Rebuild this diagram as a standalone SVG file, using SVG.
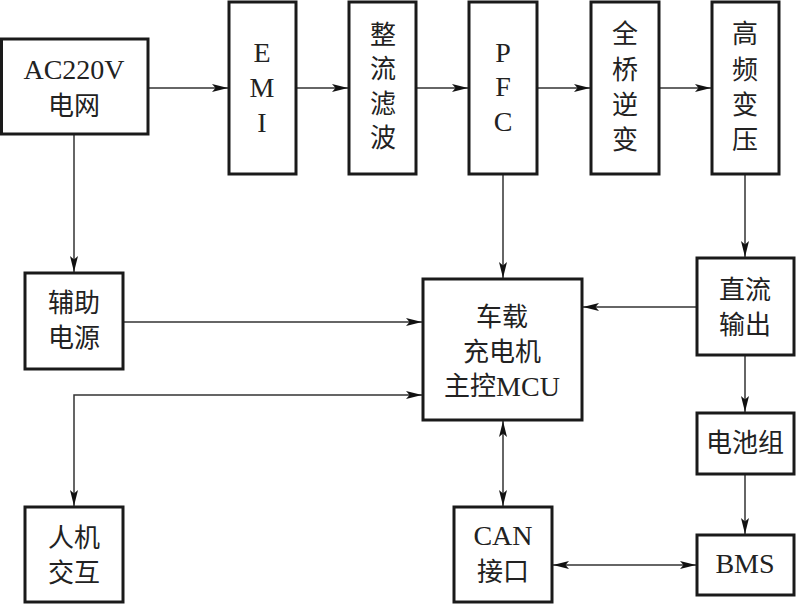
<svg xmlns="http://www.w3.org/2000/svg" width="796" height="604" viewBox="0 0 796 604">
<style>
.box{fill:#fff;stroke:#1a1a1a;stroke-width:3}
.t{font-family:"Liberation Serif","Noto Sans CJK SC",serif;font-size:26px;fill:#222;text-anchor:middle;dominant-baseline:central}
.l{font-size:28px}
.c{fill:none;stroke:#333;stroke-width:1.5}
</style>
<defs>
<marker id="ah" markerUnits="userSpaceOnUse" markerWidth="18" markerHeight="10" refX="16" refY="4.5" orient="auto-start-reverse">
<path d="M0,0.5 L16,4.5 L0,8.5 L3.5,4.5 z" fill="#111"/>
</marker>
</defs>
<rect width="796" height="604" fill="#fff"/>
<g id="connectors">
<line class="c" x1="148" y1="88" x2="228" y2="88" marker-end="url(#ah)"/>
<line class="c" x1="296" y1="88" x2="348" y2="88" marker-end="url(#ah)"/>
<line class="c" x1="416" y1="88" x2="468" y2="88" marker-end="url(#ah)"/>
<line class="c" x1="537" y1="88" x2="590" y2="88" marker-end="url(#ah)"/>
<line class="c" x1="659" y1="88" x2="711" y2="88" marker-end="url(#ah)"/>
<line class="c" x1="74" y1="134" x2="74" y2="272" marker-end="url(#ah)"/>
<line class="c" x1="503" y1="174" x2="503" y2="278" marker-end="url(#ah)"/>
<line class="c" x1="745" y1="174" x2="745" y2="257" marker-end="url(#ah)"/>
<line class="c" x1="123" y1="322" x2="422" y2="322" marker-end="url(#ah)"/>
<polyline class="c" points="422,395 74,395 74,506" marker-start="url(#ah)" marker-end="url(#ah)"/>
<line class="c" x1="697" y1="307" x2="583" y2="307" marker-end="url(#ah)"/>
<line class="c" x1="745" y1="355" x2="745" y2="412" marker-end="url(#ah)"/>
<line class="c" x1="745" y1="474" x2="745" y2="534" marker-end="url(#ah)"/>
<line class="c" x1="503" y1="421" x2="503" y2="506" marker-start="url(#ah)" marker-end="url(#ah)"/>
<line class="c" x1="553" y1="565" x2="696" y2="565" marker-start="url(#ah)" marker-end="url(#ah)"/>
</g>
<g id="ac"><rect class="box" x="1.5" y="39" width="146.5" height="95"/><text class="t l" x="74" y="69">AC220V</text><text class="t" x="74" y="106">电网</text></g>
<g id="emi"><rect class="box" x="229" y="2" width="67" height="172"/><text class="t l" x="262" y="52">E</text><text class="t l" x="262" y="87">M</text><text class="t l" x="262" y="122">I</text></g>
<g id="rect"><rect class="box" x="349" y="2" width="67" height="172"/><text class="t" x="383" y="35">整</text><text class="t" x="383" y="69">流</text><text class="t" x="383" y="104">滤</text><text class="t" x="383" y="138">波</text></g>
<g id="pfc"><rect class="box" x="469" y="2" width="68" height="172"/><text class="t l" x="503" y="52">P</text><text class="t l" x="503" y="86">F</text><text class="t l" x="503" y="121">C</text></g>
<g id="inv"><rect class="box" x="591" y="2" width="68" height="172"/><text class="t" x="625" y="34">全</text><text class="t" x="625" y="70">桥</text><text class="t" x="625" y="105">逆</text><text class="t" x="625" y="140">变</text></g>
<g id="xfmr"><rect class="box" x="712" y="2" width="67" height="172"/><text class="t" x="745" y="34">高</text><text class="t" x="745" y="70">频</text><text class="t" x="745" y="105">变</text><text class="t" x="745" y="140">压</text></g>
<g id="aux"><rect class="box" x="25" y="273" width="98" height="96"/><text class="t" x="74" y="303">辅助</text><text class="t" x="74" y="338">电源</text></g>
<g id="mcu"><rect class="box" x="423" y="279" width="159" height="141"/><text class="t" x="502" y="317">车载</text><text class="t" x="502" y="352">充电机</text><text class="t" x="502" y="386">主控<tspan class="l">MCU</tspan></text></g>
<g id="dc"><rect class="box" x="697" y="258" width="97" height="97"/><text class="t" x="745" y="290">直流</text><text class="t" x="745" y="325">输出</text></g>
<g id="bat"><rect class="box" x="697" y="413" width="97" height="61"/><text class="t" x="745" y="443">电池组</text></g>
<g id="hmi"><rect class="box" x="25" y="507" width="98" height="95"/><text class="t" x="74" y="538">人机</text><text class="t" x="74" y="573">交互</text></g>
<g id="can"><rect class="box" x="454" y="507" width="98" height="95"/><text class="t l" x="503" y="535">CAN</text><text class="t" x="503" y="572">接口</text></g>
<g id="bms"><rect class="box" x="697" y="535" width="97" height="60"/><text class="t l" x="745" y="563">BMS</text></g>
</svg>
